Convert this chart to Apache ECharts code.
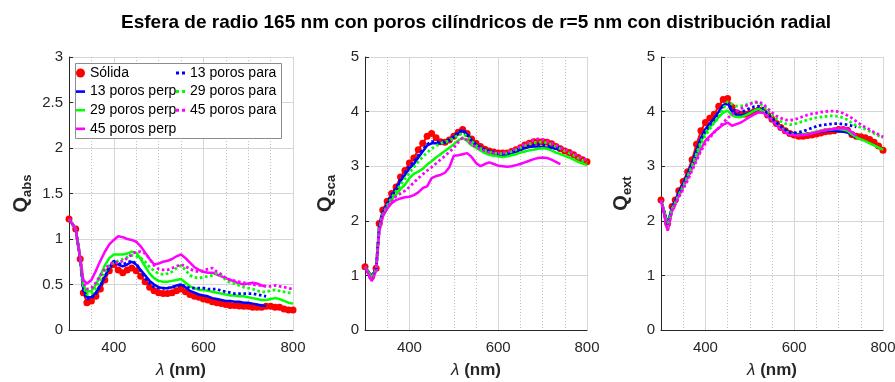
<!DOCTYPE html>
<html>
<head>
<meta charset="utf-8">
<script src="https://cdn.jsdelivr.net/npm/echarts@6/dist/echarts.min.js"></script>
<style>html,body{margin:0;padding:0;background:#fff;}#c{width:895px;height:382px;}</style>
</head>
<body>
<div id="c"></div>
<script>
// wavelengths (nm)
const lam = [300,315,325,332,340,350,360,370,380,390,400,410,420,430,440,450,460,470,480,490,500,510,520,530,540,550,560,570,580,590,600,610,620,630,640,650,660,670,680,690,700,710,720,730,740,750,760,770,780,790,800];

const seriesNames = ['Sólida','13 poros perp','29 poros perp','45 poros perp','13 poros para','29 poros para','45 poros para'];
const xTickLabels = [400, 600, 800];

// ---- Q_abs ----
const absSolida = [1.22,1.11,0.78,0.41,0.30,0.32,0.37,0.45,0.55,0.65,
0.72,0.66,0.63,0.66,0.68,0.65,0.59,0.53,0.47,0.43,
0.41,0.40,0.40,0.41,0.43,0.45,0.42,0.39,0.37,0.36,
0.34,0.33,0.31,0.30,0.29,0.28,0.27,0.27,0.265,0.26,
0.26,0.25,0.25,0.25,0.26,0.26,0.25,0.25,0.23,0.22,0.22];
const absPerp13 = [1.22,1.11,0.78,0.45,0.36,0.36,0.41,0.49,0.59,0.69,
0.76,0.72,0.70,0.72,0.75,0.72,0.66,0.60,0.54,0.50,
0.47,0.46,0.46,0.47,0.49,0.50,0.47,0.43,0.41,0.39,
0.38,0.37,0.35,0.34,0.33,0.32,0.32,0.31,0.31,0.30,
0.30,0.29,0.28,0.27,0.265];
const absPerp29 = [1.22,1.11,0.79,0.50,0.42,0.43,0.50,0.60,0.71,0.79,
0.83,0.83,0.83,0.84,0.86,0.85,0.78,0.70,0.62,0.57,
0.54,0.53,0.53,0.54,0.55,0.56,0.52,0.48,0.46,0.44,
0.44,0.43,0.42,0.41,0.40,0.39,0.38,0.38,0.37,0.37,
0.36,0.35,0.34,0.33,0.33,0.34,0.35,0.34,0.32,0.30,0.29];
const absPerp45 = [1.22,1.11,0.79,0.55,0.51,0.55,0.65,0.76,0.86,0.94,
0.99,1.03,1.02,1.00,0.99,0.97,0.92,0.85,0.78,0.72,
0.73,0.75,0.76,0.78,0.81,0.83,0.79,0.74,0.69,0.66,
0.64,0.63,0.63,0.61,0.59,0.57,0.55,0.53,0.51,0.50,
0.51,0.52,0.51,0.49,0.48];
const absPara13 = [1.22,1.11,0.78,0.43,0.34,0.35,0.40,0.48,0.58,0.68,
0.74,0.73,0.72,0.74,0.76,0.73,0.65,0.57,0.51,0.47,
0.46,0.46,0.46,0.47,0.48,0.50,0.48,0.46,0.46,0.46,
0.46,0.45,0.45,0.45,0.43,0.42,0.41,0.40,0.40,0.40,
0.40,0.40,0.39,0.38,0.37];
const absPara29 = [1.22,1.11,0.79,0.48,0.39,0.40,0.46,0.55,0.64,0.71,
0.74,0.76,0.78,0.80,0.82,0.81,0.79,0.75,0.69,0.65,
0.62,0.61,0.62,0.64,0.68,0.71,0.66,0.60,0.58,0.57,
0.58,0.59,0.60,0.62,0.60,0.55,0.52,0.51,0.49,0.47,
0.46,0.45,0.43,0.42,0.42,0.43,0.44,0.43,0.42,0.41,0.40];
const absPara45 = [1.22,1.11,0.79,0.52,0.45,0.46,0.52,0.60,0.67,0.72,
0.74,0.74,0.76,0.79,0.83,0.86,0.86,0.84,0.78,0.71,
0.67,0.66,0.66,0.68,0.70,0.72,0.70,0.67,0.65,0.64,
0.65,0.67,0.68,0.64,0.61,0.57,0.55,0.54,0.53,0.52,
0.51,0.50,0.49,0.49,0.48,0.48,0.49,0.48,0.47,0.46,0.45];

// ---- Q_sca ----
const scaSolida = [1.16,0.98,1.13,1.95,2.20,2.36,2.50,2.62,2.80,2.92,
3.06,3.15,3.30,3.42,3.55,3.60,3.52,3.45,3.44,3.48,
3.55,3.62,3.67,3.60,3.50,3.42,3.36,3.31,3.28,3.26,
3.24,3.24,3.24,3.27,3.30,3.34,3.39,3.42,3.45,3.45,
3.45,3.44,3.41,3.36,3.32,3.28,3.25,3.21,3.16,3.12,3.08];
const scaPerp13 = [1.16,0.98,1.12,1.90,2.15,2.30,2.45,2.58,2.73,2.84,
2.96,3.04,3.16,3.27,3.38,3.42,3.42,3.42,3.43,3.47,
3.53,3.60,3.65,3.58,3.47,3.39,3.34,3.30,3.27,3.24,
3.22,3.20,3.21,3.24,3.27,3.30,3.33,3.35,3.36,3.36,
3.35,3.34,3.34,3.32,3.30];
const scaPerp29 = [1.16,0.97,1.10,1.85,2.10,2.25,2.38,2.48,2.58,2.66,
2.78,2.86,2.90,2.95,3.03,3.09,3.16,3.22,3.28,3.34,
3.40,3.47,3.52,3.46,3.38,3.34,3.29,3.24,3.21,3.19,
3.18,3.17,3.18,3.20,3.22,3.25,3.27,3.29,3.30,3.32,
3.33,3.32,3.29,3.25,3.22,3.19,3.16,3.12,3.08,3.05,3.02];
const scaPerp45 = [1.16,0.90,1.08,1.80,2.08,2.22,2.32,2.38,2.41,2.43,
2.44,2.47,2.52,2.60,2.63,2.78,2.82,2.84,2.88,2.98,
3.19,3.20,3.22,3.24,3.17,3.06,3.00,3.04,3.07,3.04,
3.01,3.00,2.99,3.00,3.02,3.04,3.07,3.10,3.13,3.15,
3.16,3.15,3.12,3.08,3.04];
const scaPara13 = [1.16,0.96,1.12,1.88,2.15,2.32,2.48,2.60,2.76,2.88,
3.00,3.08,3.20,3.30,3.40,3.45,3.45,3.44,3.45,3.49,
3.55,3.62,3.67,3.59,3.48,3.40,3.35,3.30,3.28,3.26,
3.24,3.23,3.23,3.26,3.29,3.32,3.35,3.37,3.39,3.40,
3.39,3.38,3.37,3.35,3.33];
const scaPara29 = [1.16,0.95,1.11,1.86,2.12,2.28,2.42,2.54,2.66,2.77,
2.88,2.98,3.08,3.17,3.25,3.32,3.37,3.42,3.44,3.47,
3.52,3.57,3.60,3.55,3.46,3.38,3.33,3.29,3.26,3.24,
3.23,3.23,3.24,3.27,3.30,3.34,3.38,3.41,3.43,3.44,
3.44,3.43,3.40,3.36,3.32,3.28,3.24,3.20,3.15,3.11,3.07];
const scaPara45 = [1.16,0.90,1.10,1.82,2.10,2.25,2.36,2.45,2.50,2.55,
2.62,2.70,2.78,2.85,2.92,2.98,3.05,3.12,3.19,3.26,
3.34,3.44,3.52,3.48,3.40,3.35,3.31,3.28,3.25,3.24,
3.24,3.24,3.26,3.29,3.32,3.36,3.40,3.44,3.48,3.50,
3.49,3.46,3.42,3.38,3.34,3.30,3.27,3.23,3.18,3.14,3.10];

// ---- Q_ext ----
const extSolida = [2.38,1.95,2.26,2.38,2.55,2.72,2.90,3.12,3.40,3.65,
3.80,3.88,3.95,4.10,4.22,4.24,4.08,3.98,3.95,3.95,
3.97,4.00,4.03,4.02,3.94,3.86,3.78,3.71,3.65,3.60,
3.57,3.55,3.55,3.56,3.57,3.59,3.61,3.63,3.64,3.65,
3.67,3.67,3.66,3.58,3.55,3.54,3.52,3.49,3.44,3.37,3.29];
const extPerp13 = [2.38,1.95,2.25,2.36,2.52,2.68,2.86,3.06,3.30,3.52,
3.68,3.78,3.88,4.00,4.12,4.16,4.00,3.94,3.93,3.95,
3.98,4.02,4.05,4.02,3.93,3.85,3.76,3.70,3.65,3.61,
3.59,3.58,3.58,3.58,3.60,3.62,3.63,3.64,3.65,3.65,
3.64,3.63,3.62,3.57,3.52];
const extPerp29 = [2.38,1.93,2.22,2.33,2.48,2.64,2.82,3.02,3.24,3.46,
3.62,3.72,3.80,3.90,3.98,4.02,3.93,3.90,3.90,3.93,
3.97,4.02,4.05,4.01,3.93,3.85,3.77,3.70,3.64,3.60,
3.58,3.57,3.58,3.59,3.61,3.63,3.65,3.66,3.67,3.68,
3.68,3.67,3.65,3.58,3.53,3.49,3.46,3.42,3.38,3.34,3.30];
const extPerp45 = [2.38,1.82,2.18,2.30,2.45,2.62,2.78,2.96,3.14,3.32,
3.47,3.55,3.63,3.70,3.76,3.80,3.74,3.77,3.80,3.85,
3.90,3.95,3.99,3.98,3.92,3.85,3.76,3.68,3.62,3.58,
3.57,3.56,3.57,3.58,3.60,3.62,3.64,3.66,3.67,3.68,
3.69,3.70,3.68,3.62,3.56];
const extPara13 = [2.38,1.92,2.24,2.35,2.50,2.66,2.84,3.04,3.27,3.48,
3.64,3.75,3.86,3.98,4.10,4.15,4.05,4.00,3.99,4.02,
4.06,4.09,4.10,4.06,3.97,3.88,3.80,3.73,3.67,3.62,
3.61,3.62,3.64,3.67,3.70,3.73,3.75,3.76,3.77,3.78,
3.78,3.77,3.76,3.74,3.72];
const extPara29 = [2.38,1.88,2.22,2.32,2.46,2.62,2.80,2.99,3.20,3.40,
3.56,3.68,3.80,3.90,4.06,4.18,4.14,4.10,4.10,4.12,
4.15,4.17,4.16,4.10,4.02,3.94,3.87,3.82,3.78,3.76,
3.77,3.80,3.82,3.85,3.87,3.89,3.90,3.91,3.92,3.92,
3.91,3.89,3.85,3.79,3.74,3.71,3.68,3.64,3.60,3.56,3.52];
const extPara45 = [2.38,1.82,2.20,2.30,2.43,2.58,2.74,2.92,3.10,3.28,
3.42,3.52,3.62,3.70,3.80,3.88,3.95,4.00,4.05,4.10,
4.14,4.17,4.18,4.14,4.06,3.98,3.92,3.88,3.85,3.84,
3.85,3.88,3.91,3.94,3.96,3.97,3.99,4.00,4.01,4.01,
4.00,3.97,3.93,3.88,3.82,3.76,3.71,3.67,3.62,3.58,3.54];

const panelSeries = [
  [absSolida, absPerp13, absPerp29, absPerp45, absPara13, absPara29, absPara45],
  [scaSolida, scaPerp13, scaPerp29, scaPerp45, scaPara13, scaPara29, scaPara45],
  [extSolida, extPerp13, extPerp29, extPerp45, extPara13, extPara29, extPara45]
];
const ySubs = ['abs', 'sca', 'ext'];
const yMax = [3, 5, 5];
const yInterval = [0.5, 1, 1];

const F = '"Liberation Sans", Arial, Helvetica, sans-serif';
const AX = '#262626';
const colors = ['#ff0000','#0000ff','#00ff00','#ff00ff','#0000ff','#00ff00','#ff00ff'];
const gridLefts = [69, 365, 661];
const gridWidths = [224, 222, 222];
const nameGaps = [36, 28, 28];

const grids = [], xAxes = [], yAxes = [], series = [];
for (let p = 0; p < 3; p++) {
  grids.push({left: gridLefts[p], top: 57, width: gridWidths[p], height: 273, containLabel: false, outerBoundsMode: 'none'});
  // minor (dotted) vertical grid
  xAxes.push({
    type: 'value', gridIndex: p, position: 'top', min: 300, max: 800, interval: 50,
    axisLine: {show: false}, axisTick: {show: false}, axisLabel: {show: false},
    splitLine: {show: true, lineStyle: {color: '#bdbdbd', width: 1, type: [1, 2]}}
  });
  // major axis
  xAxes.push({
    type: 'value', gridIndex: p, position: 'bottom', min: 300, max: 800, interval: 100,
    axisLine: {show: true, onZero: false, lineStyle: {color: AX, width: 1}},
    axisTick: {show: false},
    axisLabel: {
      show: true, fontSize: 15, fontFamily: F, color: AX, margin: 10,
      formatter: v => (xTickLabels.indexOf(v) >= 0 ? String(v) : '')
    },
    splitLine: {show: true, lineStyle: {color: ['rgba(0,0,0,0)', '#d6d6d6'], width: 1}},
    name: '{l|λ}{n| (nm)}', nameLocation: 'middle', nameGap: 32,
    nameTextStyle: {rich: {
      l: {fontSize: 17, fontStyle: 'italic', fontFamily: F, color: AX},
      n: {fontSize: 17, fontWeight: 'bold', fontFamily: F, color: AX}
    }}
  });
  yAxes.push({
    type: 'value', gridIndex: p, min: 0, max: yMax[p], interval: yInterval[p],
    axisLine: {show: true, onZero: false, lineStyle: {color: AX, width: 1}},
    axisTick: {show: true, inside: true, length: 4, lineStyle: {color: AX}},
    axisLabel: {fontSize: 15, fontFamily: F, color: AX, margin: 6},
    splitLine: {show: true, lineStyle: {color: '#d6d6d6', width: 1}},
    name: '{q|Q}{s|' + ySubs[p] + '}', nameLocation: 'middle', nameRotate: 90, nameGap: nameGaps[p],
    nameTextStyle: {rich: {
      q: {fontSize: 20, fontWeight: 'bold', fontFamily: F, color: AX, verticalAlign: 'top', lineHeight: 22},
      s: {fontSize: 13, fontWeight: 'bold', fontFamily: F, color: AX, verticalAlign: 'top', lineHeight: 14, padding: [10, 0, 0, 0]}
    }}
  });
  const vals = panelSeries[p];
  for (let k = 0; k < 7; k++) {
    const data = vals[k].map((v, i) => [lam[i], v]);
    const s = {
      name: seriesNames[k], type: 'line', xAxisIndex: 2 * p + 1, yAxisIndex: p,
      data: data, silent: true, animation: false, z: 2 + k,
      itemStyle: {color: colors[k]}
    };
    if (k === 0) {
      s.symbol = 'circle'; s.symbolSize = 7; s.showSymbol = true;
      s.lineStyle = {color: colors[k], width: 2};
    } else if (k < 4) {
      s.symbol = 'none'; s.showSymbol = false;
      s.lineStyle = {color: colors[k], width: 2.5, type: 'solid'};
    } else {
      s.symbol = 'none'; s.showSymbol = false;
      s.lineStyle = {color: colors[k], width: 2.8, type: [2.6, 2.6]};
    }
    series.push(s);
  }
}

const lineIcon = 'path://M0,0h9v2.6h-9z';
const dotIcon = 'path://M0,0h3v3h-3zM6,0h3v3h-3z';
const legendText = {fontSize: 14, fontFamily: F, color: '#000'};
const option = {
  backgroundColor: '#fff',
  animation: false,
  title: {
    text: 'Esfera de radio 165 nm con poros cilíndricos de r=5 nm con distribución radial',
    left: 116, top: 8,
    textStyle: {fontSize: 19, fontWeight: 'bold', fontFamily: F, color: '#000'}
  },
  graphic: [{
    type: 'rect', z: 3, silent: true,
    shape: {x: 75.5, y: 63.5, width: 206, height: 75},
    style: {fill: '#fff', stroke: '#8c8c8c', lineWidth: 1}
  }],
  legend: [{
    left: 76, top: 66, orient: 'vertical', padding: 0, itemGap: 4.6,
    itemWidth: 9, itemHeight: 14, textStyle: legendText, selectedMode: false, z: 5,
    data: [{name: 'Sólida', icon: 'circle'},
           {name: '13 poros perp', icon: lineIcon},
           {name: '29 poros perp', icon: lineIcon},
           {name: '45 poros perp', icon: lineIcon}]
  }, {
    left: 176, top: 66, orient: 'vertical', padding: 0, itemGap: 4.6,
    itemWidth: 9, itemHeight: 14, textStyle: legendText, selectedMode: false, z: 5,
    data: [{name: '13 poros para', icon: dotIcon},
           {name: '29 poros para', icon: dotIcon},
           {name: '45 poros para', icon: dotIcon}]
  }],
  grid: grids, xAxis: xAxes, yAxis: yAxes, series: series
};
const chart = echarts.init(document.getElementById('c'), null, {renderer: 'canvas'});
chart.setOption(option);
</script>
</body>
</html>
